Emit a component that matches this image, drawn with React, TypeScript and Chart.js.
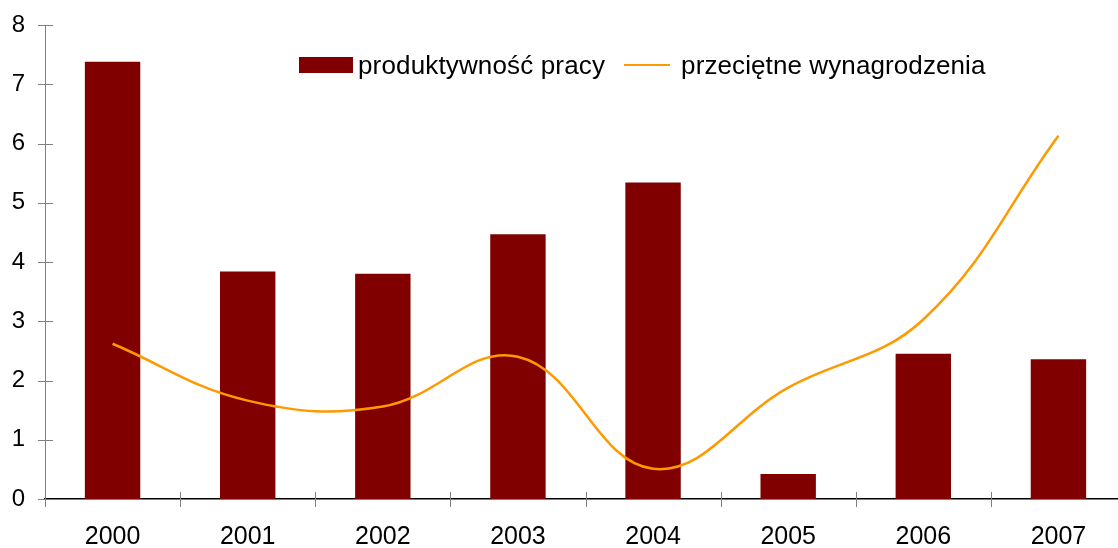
import React, { useEffect, useRef } from "react";
import { Chart, registerables } from "chart.js";

Chart.register(...registerables);

const years = ["2000", "2001", "2002", "2003", "2004", "2005", "2006", "2007"];
const productivity = [7.38, 3.84, 3.8, 4.47, 5.34, 0.42, 2.45, 2.36];
const wages = [2.62, 1.66, 1.56, 2.4, 0.51, 1.88, 3.03, 6.13];
const yMin = 0;
const yMax = 8;
const yStep = 1;
const labelProductivity = "produktywność pracy";
const labelWages = "przeciętne wynagrodzenia";

const BAR_COLOR = "#800000";
const LINE_COLOR = "#FF9900";
const FONT = "'Liberation Sans', Arial, sans-serif";

const tickMarks = {
  id: "tickMarks",
  afterDraw(chart: any) {
    const ctx = chart.ctx;
    const y = chart.scales.y;
    const area = chart.chartArea;
    ctx.save();
    ctx.strokeStyle = "#808080";
    ctx.lineWidth = 1;
    ctx.beginPath();
    y.ticks.forEach((t: any) => {
      const py = Math.round(y.getPixelForValue(t.value)) + 0.5;
      ctx.moveTo(area.left - 7, py);
      ctx.lineTo(area.left + 8, py);
    });
    const n = years.length;
    const w = (area.right - area.left) / n;
    for (let i = 0; i <= n; i++) {
      const px = Math.round(area.left + i * w) + 0.5;
      ctx.moveTo(px, area.bottom - 7);
      ctx.lineTo(px, area.bottom + 8);
    }
    ctx.stroke();
    ctx.restore();
  },
};

export default function App() {
  const ref = useRef<HTMLCanvasElement>(null);

  useEffect(() => {
    document.body.style.margin = "0";
    const chart = new Chart(ref.current as HTMLCanvasElement, {
      type: "bar",
      data: {
        labels: years,
        datasets: [
          {
            type: "line",
            label: labelWages,
            data: wages,
            borderColor: LINE_COLOR,
            backgroundColor: LINE_COLOR,
            borderWidth: 2.5,
            pointRadius: 0,
            tension: 0.4,
            order: 1,
          } as any,
          {
            type: "bar",
            label: labelProductivity,
            data: productivity,
            backgroundColor: BAR_COLOR,
            borderWidth: 0,
            categoryPercentage: 1,
            barPercentage: 0.41,
            order: 2,
          },
        ],
      },
      options: {
        responsive: false,
        animation: false,
        devicePixelRatio: 1,
        layout: { padding: { top: 25, right: 0, bottom: 0, left: 0 } },
        plugins: { legend: { display: false }, tooltip: { enabled: false } },
        scales: {
          x: {
            offset: true,
            grid: { display: false, drawTicks: false },
            border: { display: true, color: "#000000", width: 1.5 },
            ticks: {
              color: "#000000",
              padding: 23,
              font: { family: FONT, size: 25 },
              maxRotation: 0,
            },
            afterFit(scale: any) {
              scale.height = 49;
              scale.paddingLeft = 0;
              scale.paddingRight = 0;
            },
          },
          y: {
            min: yMin,
            max: yMax,
            grid: { display: false, drawTicks: false },
            border: { display: true, color: "#808080", width: 1 },
            ticks: {
              stepSize: yStep,
              color: "#000000",
              padding: 20,
              font: { family: FONT, size: 24 },
            },
            afterFit(scale: any) {
              scale.width = 45;
              scale.paddingTop = 0;
              scale.paddingBottom = 0;
            },
          },
        },
      },
      plugins: [tickMarks],
    });
    return () => chart.destroy();
  }, []);

  return (
    <div
      style={{
        position: "fixed",
        left: 0,
        top: 0,
        width: 1118,
        height: 548,
        overflow: "hidden",
        background: "#ffffff",
      }}
    >
      <canvas ref={ref} width={1126} height={548} style={{ display: "block" }} />
      <div
        style={{
          position: "absolute",
          left: 299,
          top: 50,
          height: 30,
          display: "flex",
          alignItems: "center",
          fontFamily: FONT,
          fontSize: 26,
          color: "#000000",
          whiteSpace: "nowrap",
        }}
      >
        <span style={{ display: "inline-block", width: 54, height: 16, background: BAR_COLOR }} />
        <span style={{ marginLeft: 5, letterSpacing: 0.15 }}>{labelProductivity}</span>
        <span
          style={{
            display: "inline-block",
            width: 46,
            height: 2.5,
            background: LINE_COLOR,
            marginLeft: 19,
          }}
        />
        <span style={{ marginLeft: 11, letterSpacing: 0.1 }}>{labelWages}</span>
      </div>
    </div>
  );
}
